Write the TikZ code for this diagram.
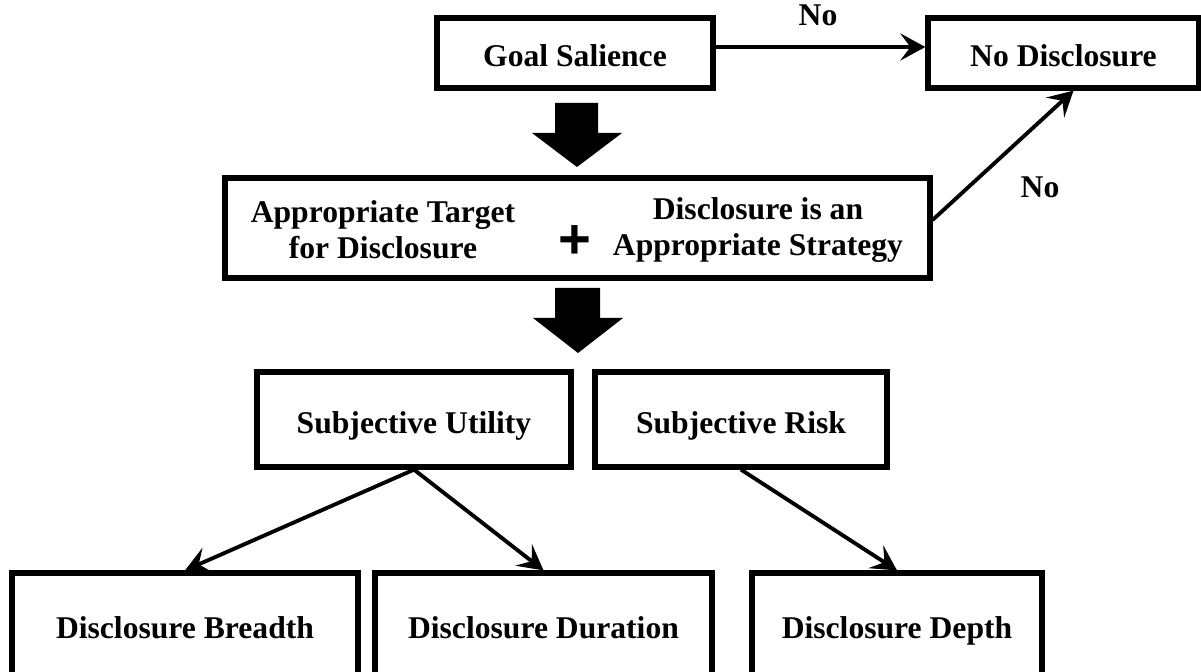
\documentclass[tikz,border=0pt]{standalone}
\usepackage{fontspec}
\setmainfont{Liberation Serif}
\newfontfamily\plusfont{Liberation Sans}
\usetikzlibrary{arrows.meta}
\begin{document}
\begin{tikzpicture}[x=0.02cm,y=-0.02cm,
	box/.style={draw,line width=3pt,inner sep=0pt,align=center,font=\bfseries\fontsize{18}{20.5}\selectfont,text height=15.4pt,text depth=0pt},
	txt/.style={inner sep=0pt,align=center,font=\bfseries\fontsize{18}{20.5}\selectfont},
	link/.style={line width=2.2pt,-{Stealth[length=0.5cm,width=0.54cm,inset=0.2cm]}}]
	\useasboundingbox (0,0) rectangle (1201,672);
	\node[box,minimum width=5.52cm,minimum height=1.4cm] (goal) at (575,53) {Goal Salience};
	\node[box,minimum width=5.42cm,minimum height=1.4cm] (nodisc) at (1063.5,53) {No Disclosure};
	\node[box,minimum width=14.1cm,minimum height=2cm] (mid) at (577.5,228) {};
	\node[txt] (target) at (383,230) {Appropriate Target\\for Disclosure};
	\node[txt] (strategy) at (758,230) {Disclosure is an\\Appropriate Strategy};
	\node[inner sep=0pt,font=\plusfont\bfseries\fontsize{32}{32}\selectfont] (plus) at (575,242) {+};
	\node[box,minimum width=6.28cm,minimum height=1.9cm] (util) at (414,419.5) {Subjective Utility};
	\node[box,minimum width=5.84cm,minimum height=1.9cm] (risk) at (741,419.5) {Subjective Risk};
	\node[box,minimum width=6.92cm,minimum height=2.08cm] (breadth) at (185,625) {Disclosure Breadth};
	\node[box,minimum width=6.74cm,minimum height=2.08cm] (duration) at (543.5,625) {Disclosure Duration};
	\node[box,minimum width=5.8cm,minimum height=2.08cm] (depth) at (897,625) {Disclosure Depth};
	\node[txt] (no1) at (818,15) {No};
	\node[txt] (no2) at (1040,187) {No};
	\fill (555,103) -- (598,103) -- (598,133) -- (622,133) -- (577,167) -- (532,133) -- (555,133) -- cycle;
	\fill (555,288) -- (600,288) -- (600,318) -- (623,318) -- (578,353) -- (533,318) -- (555,318) -- cycle;
	\draw[link] ([yshift=0.12cm]goal.east) -- ([yshift=0.12cm]nodisc.west);
	\draw[link] ([yshift=0.16cm]mid.east) -- ([xshift=0.2cm]nodisc.south);
	\draw[link] (util.south) -- (breadth.north);
	\draw[link] (util.south) -- (duration.north);
	\draw[link] (risk.south) -- (depth.north);
\end{tikzpicture}
\end{document}
